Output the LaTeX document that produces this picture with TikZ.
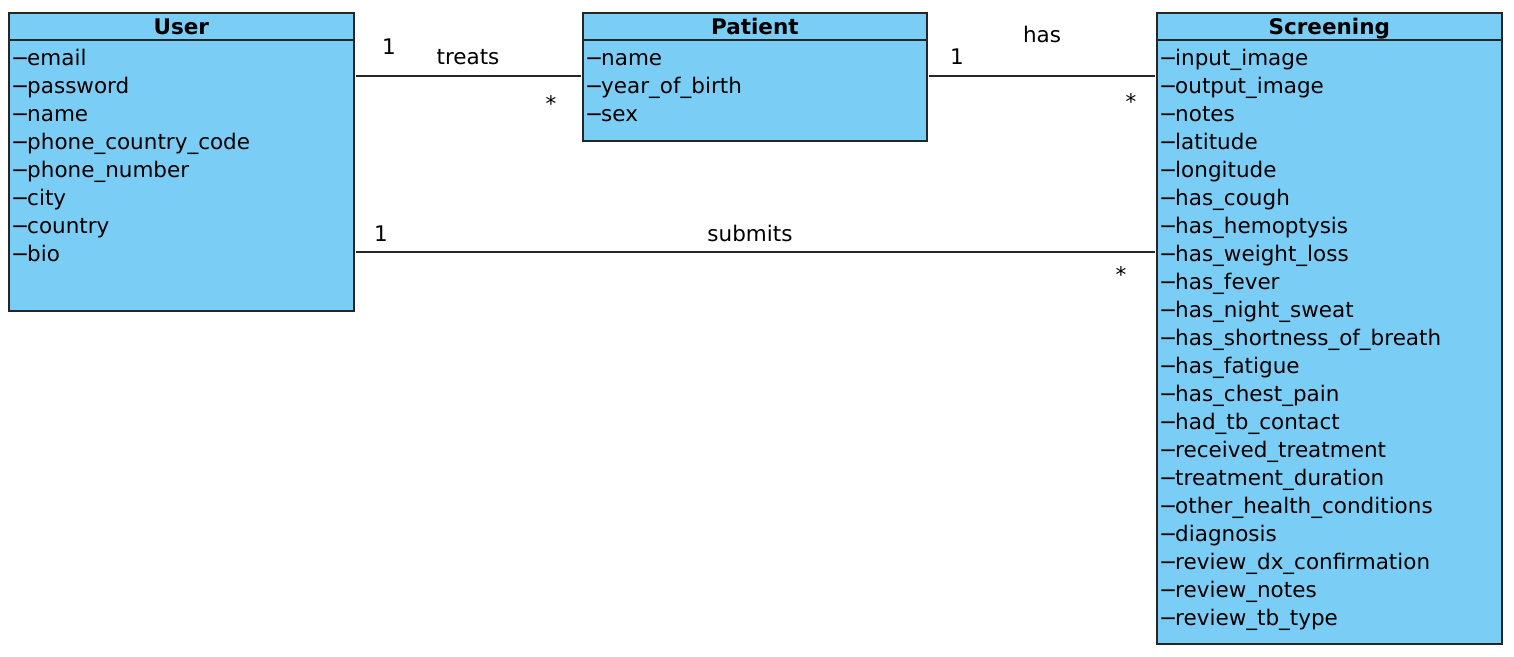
\documentclass[tikz,border=0pt]{standalone}
\usepackage{fontspec}
\setmainfont{DejaVu Sans}
\usetikzlibrary{positioning}
\definecolor{classblue}{RGB}{122,206,245}
\newcommand\umlsize{\fontsize{21.5}{28}\selectfont}
\newcommand\priv{\char"2212\kern-2pt}
\tikzset{>=stealth}
\tikzset{
  classbox/.style={draw=black!85, line width=1.6pt, fill=classblue, anchor=north west, inner sep=0pt},
  classname/.style={font=\umlsize\bfseries, anchor=base, inner sep=0pt},
  attr/.style={anchor=base west, inner sep=0pt},
  mult/.style={anchor=base, inner sep=0pt},
  assoc/.style={draw=black!85, line width=1.6pt}
}

\begin{document}
\begin{tikzpicture}[x=1pt, y=-1pt, font=\umlsize]
\useasboundingbox (0,0) rectangle (1514,656);

% classes
\node[classbox, minimum width=345pt, minimum height=298pt] (user) at (8,12) {};
\node[classbox, minimum width=344pt, minimum height=128pt] (patient) at (582,12) {};
\node[classbox, minimum width=345pt, minimum height=631pt] (screening) at (1156,12) {};

\foreach \c in {user, patient, screening}
  \draw[assoc] ([yshift=-28pt]\c.north west) -- ([yshift=-28pt]\c.north east);

\node[classname] (usertitle) at ([yshift=-22pt]user.north) {User};
\node[classname] (patienttitle) at ([yshift=-22pt]patient.north) {Patient};
\node[classname] (screeningtitle) at ([yshift=-22pt]screening.north) {Screening};

% attributes
\foreach \a [count=\i from 0] in {email, password, name, phone\_country\_code,
    phone\_number, city, country, bio}
  \node[attr] (ua\i) at ([xshift=3pt, yshift={-53.5pt-28pt*\i}]user.north west) {\priv\a};

\foreach \a [count=\i from 0] in {name, year\_of\_birth, sex}
  \node[attr] (pa\i) at ([xshift=3pt, yshift={-53.5pt-28pt*\i}]patient.north west) {\priv\a};

\foreach \a [count=\i from 0] in {input\_image, output\_image, notes, latitude,
    longitude, has\_cough, has\_hemoptysis, has\_weight\_loss, has\_fever,
    has\_night\_sweat, has\_shortness\_of\_breath, has\_fatigue, has\_chest\_pain,
    had\_tb\_contact, received\_treatment, treatment\_duration,
    other\_health\_conditions, diagnosis, review\_dx\_confirmation,
    review\_notes, review\_tb\_type}
  \node[attr] (sa\i) at ([xshift=3pt, yshift={-53.5pt-28pt*\i}]screening.north west) {\priv\a};

% associations
\draw[assoc] ([xshift=1pt, yshift=-64pt]user.north east) -- ([xshift=-1pt, yshift=-64pt]patient.north west);
\draw[assoc] ([xshift=1pt, yshift=-64pt]patient.north east) -- ([xshift=-1pt, yshift=-64pt]screening.north west);
\draw[assoc] ([xshift=1pt, yshift=-240pt]user.north east) -- ([xshift=-1pt, yshift=-240pt]screening.north west);

% labels
\node[mult] (treats1) at (389,54) {1};
\node[mult] (treats) at (468,64) {treats};
\node[mult] (treatsn) at (551,111) {*};
\node[mult] (has1) at (957,64) {1};
\node[mult] (has) at (1042,42) {has};
\node[mult] (hasn) at (1131,109) {*};
\node[mult] (submits1) at (381,241) {1};
\node[mult] (submits) at (750,241) {submits};
\node[mult] (submitsn) at (1121,282) {*};
\end{tikzpicture}
\end{document}
